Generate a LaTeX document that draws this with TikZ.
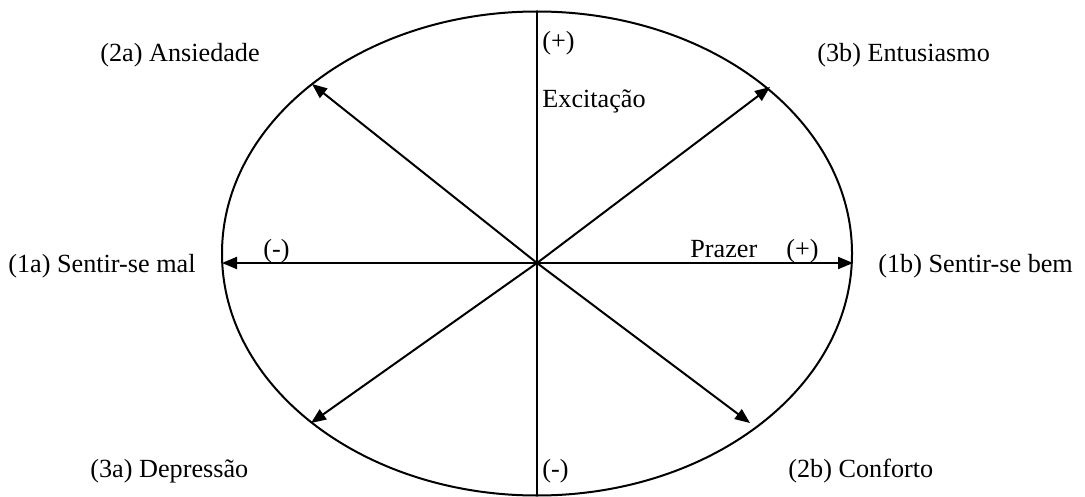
\documentclass[tikz,border=0pt]{standalone}
\usepackage{fontspec}
\setmainfont{Liberation Serif}
\usetikzlibrary{arrows.meta}

\tikzset{
  lbl/.style={anchor=base west, inner sep=0pt, font=\fontsize{13.1}{15}\selectfont},
  axis/.style={line width=1pt},
  vec/.style={line width=1pt, -{Triangle[length=7.5pt,width=6pt]}}
}

\begin{document}
\begin{tikzpicture}[x=0.5pt,y=-0.5pt]
  \useasboundingbox (0,0) rectangle (1085,497);

  % circle of affect
  \draw[line width=1pt] (537,253.5) ellipse [x radius=157.5pt, y radius=121pt];

  % centre and arrow ends
  \coordinate (o) at (537,263);
  \coordinate (top) at (537,11);
  \coordinate (bot) at (537,496);
  \coordinate (mal) at (222,263);
  \coordinate (bem) at (853,263);
  \coordinate (ans) at (312,84);
  \coordinate (ent) at (770,87);
  \coordinate (dep) at (311,423);
  \coordinate (con) at (750,423);

  % axes
  \draw[axis] (top) -- (bot);
  \draw[vec] (o) -- (mal);
  \draw[vec] (o) -- (bem);
  \draw[vec] (o) -- (ans);
  \draw[vec] (o) -- (ent);
  \draw[vec] (o) -- (dep);
  \draw[vec] (o) -- (con);

  % axis labels
  \node[lbl] (excp) at (542,50) {(+)};
  \node[lbl] (exc) at (542,108) {Excitação};
  \node[lbl] (excm) at (542,477) {(-)};
  \node[lbl] (prm) at (263,257) {(-)};
  \node[lbl] (pr) at (690,257) {Prazer};
  \node[lbl] (prp) at (786,257) {(+)};

  % states
  \node[lbl] (l1a) at (8,272) {(1a) Sentir-se mal};
  \node[lbl] (l1b) at (878,272) {(1b) Sentir-se bem};
  \node[lbl] (l2a) at (100,62) {(2a) Ansiedade};
  \node[lbl] (l3b) at (817,62) {(3b) Entusiasmo};
  \node[lbl] (l3a) at (90,477) {(3a) Depressão};
  \node[lbl] (l2b) at (788,477) {(2b) Conforto};
\end{tikzpicture}
\end{document}
